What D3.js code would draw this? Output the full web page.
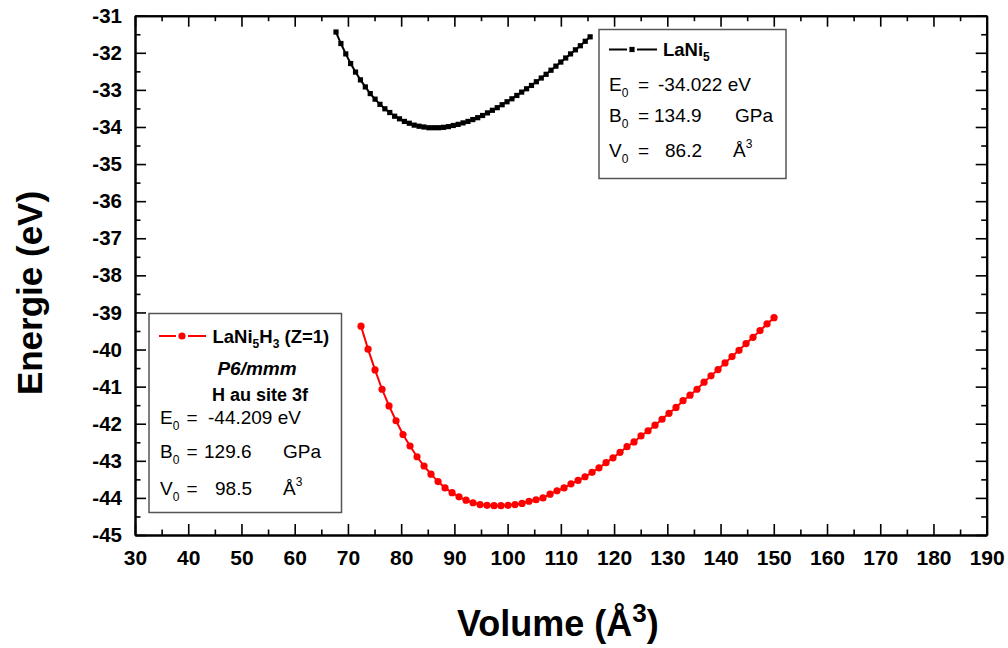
<!DOCTYPE html>
<html>
<head>
<meta charset="utf-8">
<script src="https://cdn.jsdelivr.net/npm/d3@7"></script>
<style>
	body { margin: 0; background: #fff; }
	text { font-family: "Liberation Sans", Arial, sans-serif; }
</style>
</head>
<body>
<script>
// LaNi5 : volume (A^3) and energy (eV)
var volLaNi5 = [67.76, 68.68, 69.60, 70.51, 71.43, 72.35, 73.27, 74.19, 75.10, 76.02,
	76.94, 77.86, 78.78, 79.69, 80.61, 81.53, 82.45, 83.37, 84.28, 85.20,
	86.12, 87.04, 87.96, 88.87, 89.79, 90.71, 91.63, 92.55, 93.46, 94.38,
	95.30, 96.22, 97.14, 98.05, 98.97, 99.89, 100.81, 101.73, 102.64, 103.56,
	104.48, 105.40, 106.32, 107.23, 108.15, 109.07, 109.99, 110.91, 111.82, 112.74,
	113.66, 114.58, 115.50];
var eLaNi5 = [-31.44, -31.75, -32.03, -32.29, -32.52, -32.73, -32.92, -33.10, -33.25, -33.39,
	-33.51, -33.61, -33.71, -33.78, -33.85, -33.90, -33.95, -33.98, -34.00, -34.02,
	-34.02, -34.02, -34.01, -33.99, -33.96, -33.93, -33.89, -33.85, -33.80, -33.75,
	-33.69, -33.62, -33.55, -33.48, -33.40, -33.32, -33.24, -33.15, -33.06, -32.97,
	-32.88, -32.78, -32.68, -32.58, -32.47, -32.36, -32.25, -32.14, -32.03, -31.92,
	-31.81, -31.69, -31.57];

// LaNi5H3 (Z=1)
var volLaNi5H3 = [72.46, 73.78, 75.09, 76.41, 77.72, 79.04, 80.35, 81.67, 82.98, 84.30,
	85.61, 86.93, 88.24, 89.56, 90.87, 92.19, 93.50, 94.82, 96.13, 97.45,
	98.76, 100.08, 101.39, 102.71, 104.02, 105.34, 106.65, 107.97, 109.28, 110.60,
	111.91, 113.23, 114.54, 115.86, 117.17, 118.49, 119.80, 121.12, 122.43, 123.75,
	125.06, 126.38, 127.69, 129.01, 130.32, 131.64, 132.95, 134.27, 135.58, 136.90,
	138.21, 139.53, 140.84, 142.16, 143.47, 144.79, 146.10, 147.42, 148.73, 150.05];
var eLaNi5H3 = [-39.37, -39.99, -40.55, -41.07, -41.52, -41.92, -42.29, -42.60, -42.89, -43.14,
	-43.36, -43.56, -43.73, -43.86, -43.97, -44.06, -44.13, -44.18, -44.20, -44.21,
	-44.21, -44.20, -44.18, -44.15, -44.09, -44.05, -44.00, -43.90, -43.81, -43.73,
	-43.62, -43.53, -43.43, -43.31, -43.19, -43.05, -42.92, -42.77, -42.62, -42.49,
	-42.33, -42.19, -42.04, -41.88, -41.72, -41.56, -41.38, -41.23, -41.07, -40.88,
	-40.71, -40.54, -40.36, -40.19, -40.02, -39.84, -39.67, -39.49, -39.31, -39.14];

// ticks
var xTicks = [30, 40, 50, 60, 70, 80, 90, 100, 110, 120, 130, 140, 150, 160, 170, 180, 190];
var xMinor = [35, 45, 55, 65, 75, 85, 95, 105, 115, 125, 135, 145, 155, 165, 175, 185];
var yTicks = [-45, -44, -43, -42, -41, -40, -39, -38, -37, -36, -35, -34, -33, -32, -31];
var yMinor = [-44.5, -43.5, -42.5, -41.5, -40.5, -39.5, -38.5, -37.5, -36.5, -35.5, -34.5, -33.5, -32.5, -31.5];

// fit results shown in the legends
var fitLaNi5 = ["-34.022 eV", "134.9", "86.2"];
var fitLaNi5H3 = ["-44.209 eV", "129.6", "98.5"];

function drawChart() {
	var width = 1008, height = 648;
	var plotL = 135, plotR = 986.7, plotT = 15.7, plotB = 535;

	var svg = d3.select("body").append("svg")
		.attr("width", width)
		.attr("height", height);

	var x = d3.scaleLinear().domain([30, 190]).range([plotL, plotR]);
	var y = d3.scaleLinear().domain([-45, -31]).range([plotB, plotT]);

	// plain hyphen for negatives, like the original
	var plain = function(d) { return String(d); };

	function styleAxis(g) {
		g.selectAll("path").attr("stroke", "#000").attr("stroke-width", 2);
		g.selectAll("line").attr("stroke", "#000").attr("stroke-width", 1.6);
	}

	// bottom
	svg.append("g").attr("transform", "translate(0," + plotB + ")")
		.call(d3.axisBottom(x).tickValues(xMinor).tickSizeInner(-5.5).tickSizeOuter(0).tickFormat(""))
		.call(styleAxis);
	var gx = svg.append("g").attr("transform", "translate(0," + plotB + ")")
		.call(d3.axisBottom(x).tickValues(xTicks).tickSizeInner(-11).tickSizeOuter(0).tickPadding(15).tickFormat(plain))
		.call(styleAxis);
	gx.selectAll("text")
		.attr("font-family", "'Liberation Sans', Arial, sans-serif")
		.attr("font-size", 21).attr("font-weight", "bold").attr("fill", "#000");

	// top
	svg.append("g").attr("transform", "translate(0," + plotT + ")")
		.call(d3.axisTop(x).tickValues(xMinor).tickSizeInner(-5.5).tickSizeOuter(0).tickFormat(""))
		.call(styleAxis);
	svg.append("g").attr("transform", "translate(0," + plotT + ")")
		.call(d3.axisTop(x).tickValues(xTicks).tickSizeInner(-11).tickSizeOuter(0).tickFormat(""))
		.call(styleAxis);

	// left
	svg.append("g").attr("transform", "translate(" + plotL + ",0)")
		.call(d3.axisLeft(y).tickValues(yMinor).tickSizeInner(-5.5).tickSizeOuter(0).tickFormat(""))
		.call(styleAxis);
	var gy = svg.append("g").attr("transform", "translate(" + plotL + ",0)")
		.call(d3.axisLeft(y).tickValues(yTicks).tickSizeInner(-11).tickSizeOuter(0).tickPadding(13).tickFormat(plain))
		.call(styleAxis);
	gy.selectAll("text")
		.attr("font-family", "'Liberation Sans', Arial, sans-serif")
		.attr("font-size", 20.5).attr("font-weight", "bold").attr("fill", "#000");

	// right
	svg.append("g").attr("transform", "translate(" + plotR + ",0)")
		.call(d3.axisRight(y).tickValues(yMinor).tickSizeInner(-5.5).tickSizeOuter(0).tickFormat(""))
		.call(styleAxis);
	svg.append("g").attr("transform", "translate(" + plotR + ",0)")
		.call(d3.axisRight(y).tickValues(yTicks).tickSizeInner(-11).tickSizeOuter(0).tickFormat(""))
		.call(styleAxis);

	// axis titles
	svg.append("text")
		.attr("transform", "translate(42,293) rotate(-90)")
		.attr("text-anchor", "middle")
		.attr("font-size", 35).attr("font-weight", "bold")
		.text("Energie (eV)");

	var xt = svg.append("text")
		.attr("x", 457).attr("y", 636)
		.attr("font-size", 36).attr("font-weight", "bold");
	xt.append("tspan").text("Volume (Å");
	xt.append("tspan").attr("font-size", 26).attr("dy", -14).text("3");
	xt.append("tspan").attr("dy", 14).text(")");

	// curves
	var line = d3.line()
		.x(function(d) { return x(d[0]); })
		.y(function(d) { return y(d[1]); });

	var blackPts = volLaNi5.map(function(v, i) { return [v, eLaNi5[i]]; });
	var redPts = volLaNi5H3.map(function(v, i) { return [v, eLaNi5H3[i]]; });

	svg.append("path").datum(blackPts)
		.attr("d", line).attr("fill", "none")
		.attr("stroke", "#000").attr("stroke-width", 2);
	svg.selectAll(".sq").data(blackPts).enter().append("rect")
		.attr("class", "sq")
		.attr("x", function(d) { return x(d[0]) - 2.6; })
		.attr("y", function(d) { return y(d[1]) - 2.6; })
		.attr("width", 5.2).attr("height", 5.2)
		.attr("fill", "#000");

	svg.append("path").datum(redPts)
		.attr("d", line).attr("fill", "none")
		.attr("stroke", "#ff0000").attr("stroke-width", 2);
	svg.selectAll(".dot").data(redPts).enter().append("circle")
		.attr("class", "dot")
		.attr("cx", function(d) { return x(d[0]); })
		.attr("cy", function(d) { return y(d[1]); })
		.attr("r", 3.6)
		.attr("fill", "#ff0000");

	// legends
	function subLine(g, px, py, letter, eqX, valX, val, unitX, unit) {
		var t = g.append("text").attr("y", py).attr("font-size", 19).attr("fill", "#000");
		t.append("tspan").attr("x", px).text(letter);
		t.append("tspan").attr("font-size", 12).attr("dy", 6).text("0");
		t.append("tspan").attr("x", eqX).attr("dy", -6).text("=");
		t.append("tspan").attr("x", valX).text(val);
		if (unit) {
			t.append("tspan").attr("x", unitX).text(unit);
		}
		return t;
	}

	// LaNi5 legend
	var lg1 = svg.append("g");
	lg1.append("rect").attr("x", 599).attr("y", 29.5).attr("width", 187).attr("height", 149)
		.attr("fill", "#fff").attr("stroke", "#555").attr("stroke-width", 1.5);
	lg1.append("line").attr("x1", 609).attr("x2", 627).attr("y1", 49.5).attr("y2", 49.5).attr("stroke", "#000").attr("stroke-width", 2);
	lg1.append("line").attr("x1", 637).attr("x2", 657).attr("y1", 49.5).attr("y2", 49.5).attr("stroke", "#000").attr("stroke-width", 2);
	lg1.append("rect").attr("x", 629.4).attr("y", 46.9).attr("width", 5.2).attr("height", 5.2).attr("fill", "#000");
	var n1 = lg1.append("text").attr("x", 663).attr("y", 56).attr("font-size", 18.5).attr("font-weight", "bold");
	n1.append("tspan").text("LaNi");
	n1.append("tspan").attr("font-size", 12).attr("dy", 5).text("5");
	subLine(lg1, 609, 90.5, "E", 638, 658, fitLaNi5[0]);
	subLine(lg1, 609, 121.5, "B", 638, 654, fitLaNi5[1], 735, "GPa");
	var v1 = subLine(lg1, 609, 157, "V", 638, 665, fitLaNi5[2], 733, "Å");
	v1.append("tspan").attr("font-size", 12).attr("dy", -9).text("3");

	// LaNi5H3 legend
	var lg2 = svg.append("g");
	lg2.append("rect").attr("x", 149).attr("y", 313.5).attr("width", 192.5).attr("height", 199)
		.attr("fill", "#fff").attr("stroke", "#555").attr("stroke-width", 1.5);
	lg2.append("line").attr("x1", 159).attr("x2", 176).attr("y1", 336).attr("y2", 336).attr("stroke", "#ff0000").attr("stroke-width", 2);
	lg2.append("line").attr("x1", 188).attr("x2", 206).attr("y1", 336).attr("y2", 336).attr("stroke", "#ff0000").attr("stroke-width", 2);
	lg2.append("circle").attr("cx", 182).attr("cy", 336).attr("r", 3.6).attr("fill", "#ff0000");
	var n2 = lg2.append("text").attr("x", 212.5).attr("y", 343).attr("font-size", 18.5).attr("font-weight", "bold");
	n2.append("tspan").text("LaNi");
	n2.append("tspan").attr("font-size", 12).attr("dy", 5).text("5");
	n2.append("tspan").attr("dy", -5).text("H");
	n2.append("tspan").attr("font-size", 12).attr("dy", 5).text("3");
	n2.append("tspan").attr("dy", -5).text(" (Z=1)");
	lg2.append("text").attr("x", 257).attr("y", 375).attr("text-anchor", "middle")
		.attr("font-size", 19).attr("font-weight", "bold").attr("font-style", "italic")
		.text("P6/mmm");
	lg2.append("text").attr("x", 212).attr("y", 400.5)
		.attr("font-size", 18).attr("font-weight", "bold")
		.text("H au site 3f");
	subLine(lg2, 160, 423.5, "E", 186.5, 208, fitLaNi5H3[0]);
	subLine(lg2, 160, 457.5, "B", 186.5, 204, fitLaNi5H3[1], 283, "GPa");
	var v2 = subLine(lg2, 160, 495, "V", 186.5, 215, fitLaNi5H3[2], 283, "Å");
	v2.append("tspan").attr("font-size", 12).attr("dy", -9).text("3");
}

drawChart();
</script>
</body>
</html>
